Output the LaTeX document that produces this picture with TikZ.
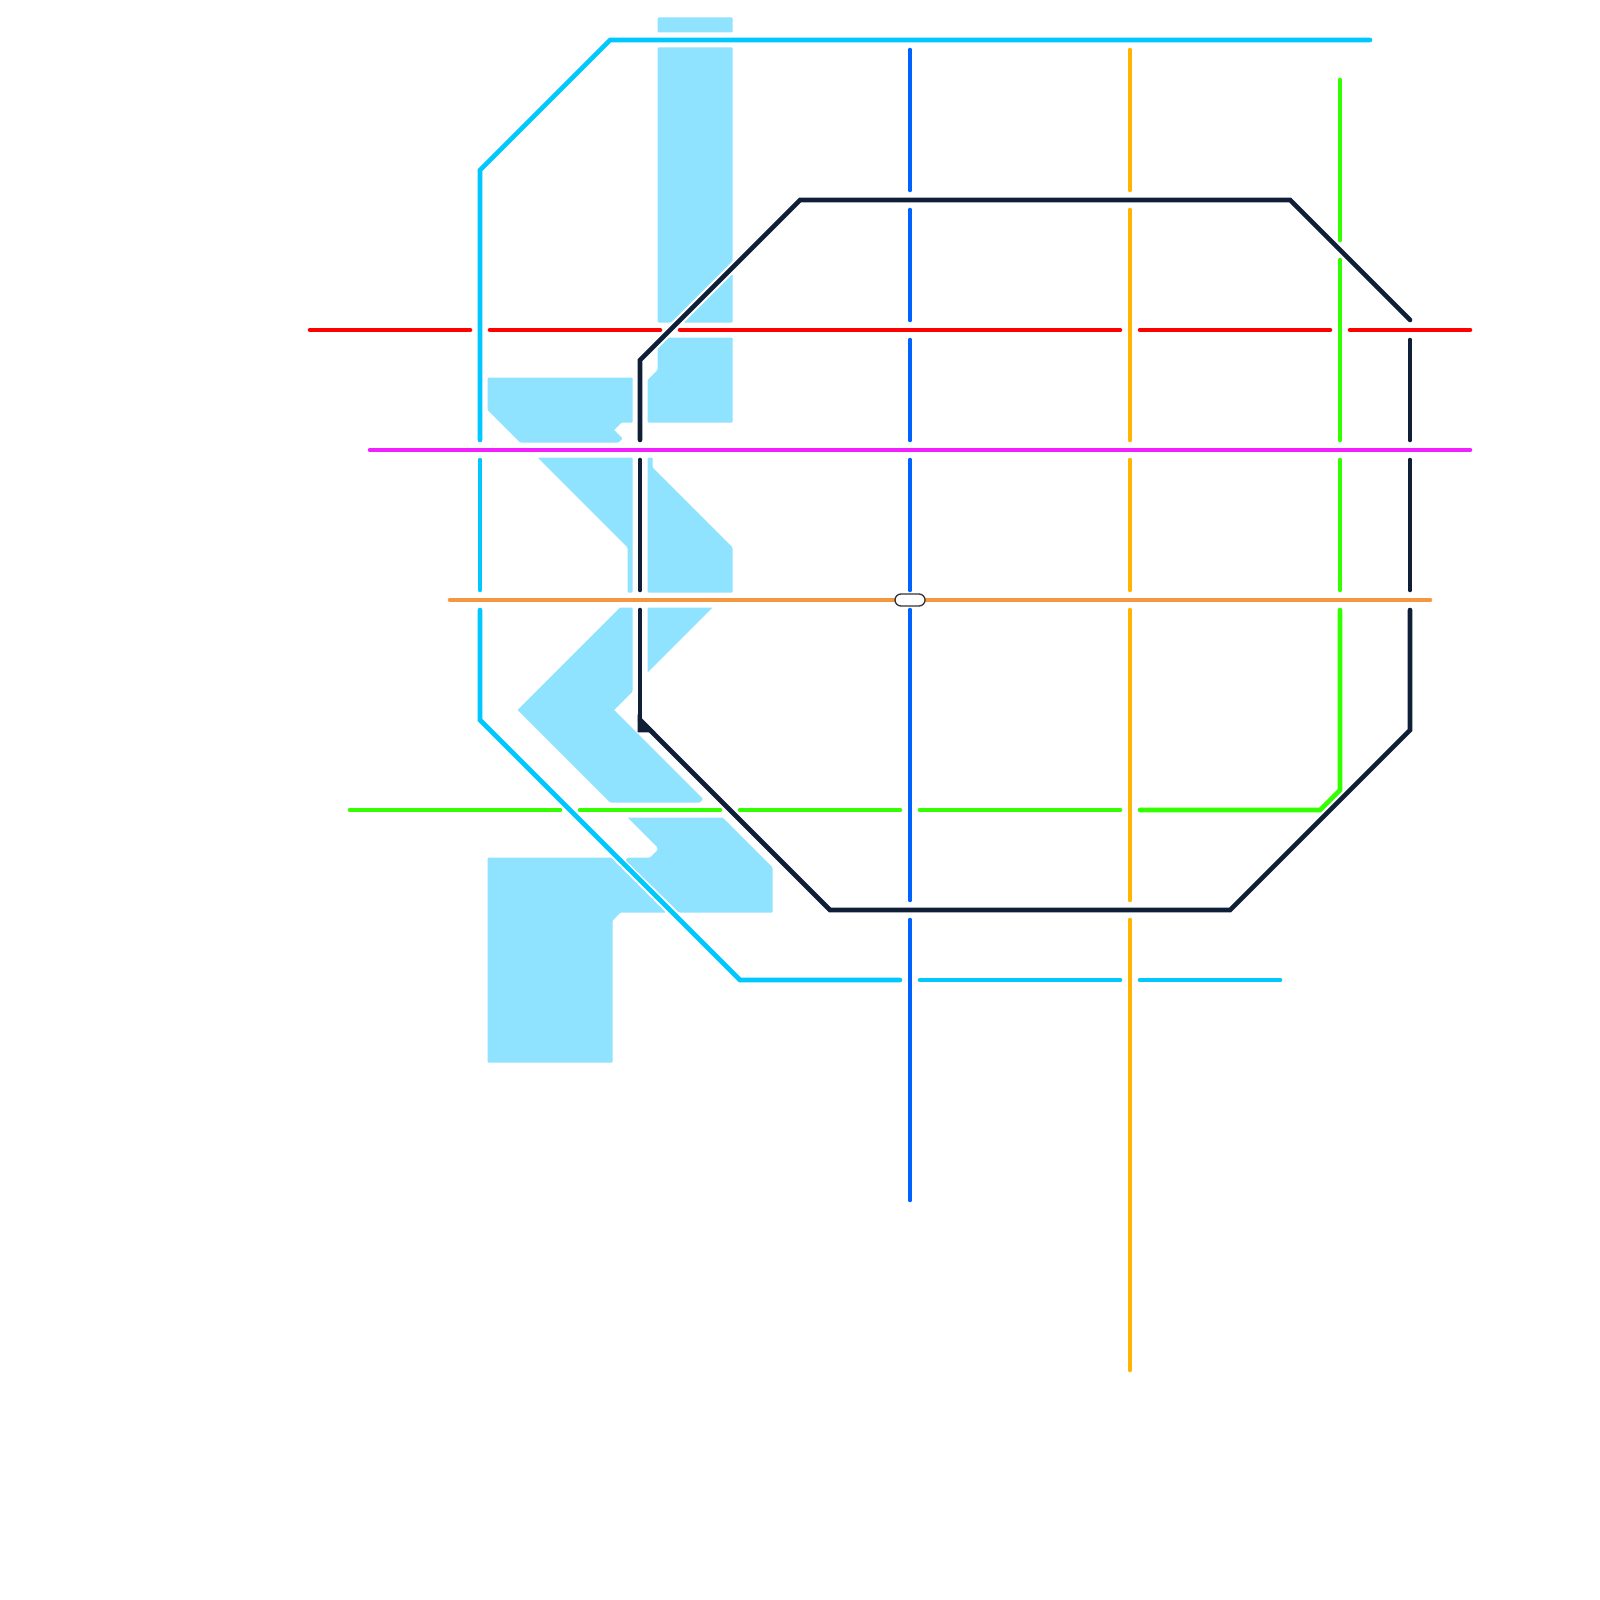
\documentclass[tikz,border=0pt]{standalone}
\usepackage{tikz}
\usetikzlibrary{positioning}
\definecolor{water}{RGB}{143,227,255}
\definecolor{lineCyan}{RGB}{0,200,255}
\definecolor{lineRed}{RGB}{255,0,0}
\definecolor{lineMagenta}{RGB}{240,32,255}
\definecolor{lineOrange}{RGB}{245,150,64}
\definecolor{lineGreen}{RGB}{51,255,0}
\definecolor{lineNavy}{RGB}{15,31,56}
\definecolor{lineBlue}{RGB}{0,98,255}
\definecolor{lineAmber}{RGB}{255,180,0}
\tikzset{
  river/.style={fill=water,rounded corners=0.01cm},
  metro/.style={line width=0.046cm,line cap=round},
  interchange/.style={draw=black!80,fill=white,line width=0.013cm,rounded corners=0.06cm,
    minimum width=0.3cm,minimum height=0.12cm,inner sep=0pt}
}
\begin{document}
\begin{tikzpicture}[x=0.01cm,y=-0.01cm]
  \fill[white] (0,0) rectangle (1600,1600);
  \useasboundingbox (0,0) rectangle (1600,1600);

  % River, north reach
  \fill[river] (657.5,17.5) rectangle (732.5,32.5);
  \fill[river] (657.5,47.5) -- (732.5,47.5) -- (732.5,261) -- (671,322.5) -- (657.5,322.5) -- cycle;
  \fill[river] (732.5,274) -- (732.5,322.5) -- (684,322.5) -- cycle;
  \fill[river] (669,337.5) -- (732.5,337.5) -- (732.5,422.5) -- (647.5,422.5) -- (647.5,380)
    -- (657.5,370) -- (657.5,349) -- cycle;
  \fill[river] (487.5,377.5) -- (632.5,377.5) -- (632.5,422.5) -- (621.5,422.5) -- (614,430)
    -- (622.5,438.5) -- (618.5,442.5) -- (520,442.5) -- (487.5,410) -- cycle;

  % River, middle reach
  \fill[river] (537.5,457.5) -- (632.5,457.5) -- (632.5,592.5) -- (627.5,592.5) -- (627.5,547.5) -- cycle;
  \fill[river] (647.5,457.5) -- (652.5,457.5) -- (652.5,467.5) -- (732.5,547.5) -- (732.5,592.5)
    -- (647.5,592.5) -- cycle;
  \fill[river] (647.5,607.5) -- (712.5,607.5) -- (647.5,672.5) -- cycle;
  \fill[river] (620,607.5) -- (632.5,607.5) -- (632.5,691.5) -- (614,710) -- (703,799)
    -- (700,802.5) -- (610,802.5) -- (517.5,710) -- cycle;

  % River, south reach
  \fill[river] (627.5,817.5) -- (722.5,817.5) -- (772.5,867.5) -- (772.5,912.5) -- (679,912.5)
    -- (625.5,860) -- (628,857.5) -- (650,857.5) -- (657.5,850) -- (657.5,847.5) -- cycle;
  \fill[river] (487.5,857.5) -- (611,857.5) -- (666,912.5) -- (620.5,912.5) -- (612.5,920.5)
    -- (612.5,1062.5) -- (487.5,1062.5) -- cycle;

  % Red line
  \draw[metro,lineRed] (310,330) -- (470,330);
  \draw[metro,lineRed] (490,330) -- (660,330);
  \draw[metro,lineRed] (680,330) -- (1120,330);
  \draw[metro,lineRed] (1140,330) -- (1330,330);
  \draw[metro,lineRed] (1350,330) -- (1470,330);

  % Magenta line
  \draw[metro,lineMagenta] (370,450) -- (1470,450);

  % Orange line
  \draw[metro,lineOrange] (450,600) -- (1430,600);

  % Green line
  \draw[metro,lineGreen] (1340,80) -- (1340,240);
  \draw[metro,lineGreen] (1340,260) -- (1340,440);
  \draw[metro,lineGreen] (1340,460) -- (1340,590);
  \draw[metro,lineGreen] (1340,610) -- (1340,790) -- (1320,810) -- (1140,810);
  \draw[metro,lineGreen] (1120,810) -- (920,810);
  \draw[metro,lineGreen] (900,810) -- (740,810);
  \draw[metro,lineGreen] (720,810) -- (580,810);
  \draw[metro,lineGreen] (560,810) -- (350,810);

  % Blue line
  \draw[metro,lineBlue] (910,50) -- (910,190);
  \draw[metro,lineBlue] (910,210) -- (910,320);
  \draw[metro,lineBlue] (910,340) -- (910,440);
  \draw[metro,lineBlue] (910,460) -- (910,590);
  \draw[metro,lineBlue] (910,610) -- (910,900);
  \draw[metro,lineBlue] (910,920) -- (910,1200);

  % Amber line
  \draw[metro,lineAmber] (1130,50) -- (1130,190);
  \draw[metro,lineAmber] (1130,210) -- (1130,440);
  \draw[metro,lineAmber] (1130,460) -- (1130,590);
  \draw[metro,lineAmber] (1130,610) -- (1130,900);
  \draw[metro,lineAmber] (1130,920) -- (1130,1370);

  % Cyan line
  \draw[metro,lineCyan] (1370,40) -- (610,40) -- (480,170) -- (480,440);
  \draw[metro,lineCyan] (480,460) -- (480,590);
  \draw[metro,lineCyan] (480,610) -- (480,720) -- (740,980) -- (900,980);
  \draw[metro,lineCyan] (920,980) -- (1120,980);
  \draw[metro,lineCyan] (1140,980) -- (1280,980);

  % Navy loop
  \draw[metro,lineNavy] (1410,320) -- (1290,200) -- (800,200) -- (640,360) -- (640,440);
  \draw[metro,lineNavy] (640,460) -- (640,590);
  \draw[metro,lineNavy] (640,610) -- (640,730) -- (650,730);
  \draw[metro,lineNavy,fill=lineNavy] (640,720) -- (650,730) -- (640,730) -- cycle;
  \draw[metro,lineNavy] (640,720) -- (830,910) -- (1230,910) -- (1410,730) -- (1410,610);
  \draw[metro,lineNavy] (1410,590) -- (1410,460);
  \draw[metro,lineNavy] (1410,440) -- (1410,340);

  % Interchange
  \node[interchange] (hub) at (910,600) {};
\end{tikzpicture}
\end{document}
